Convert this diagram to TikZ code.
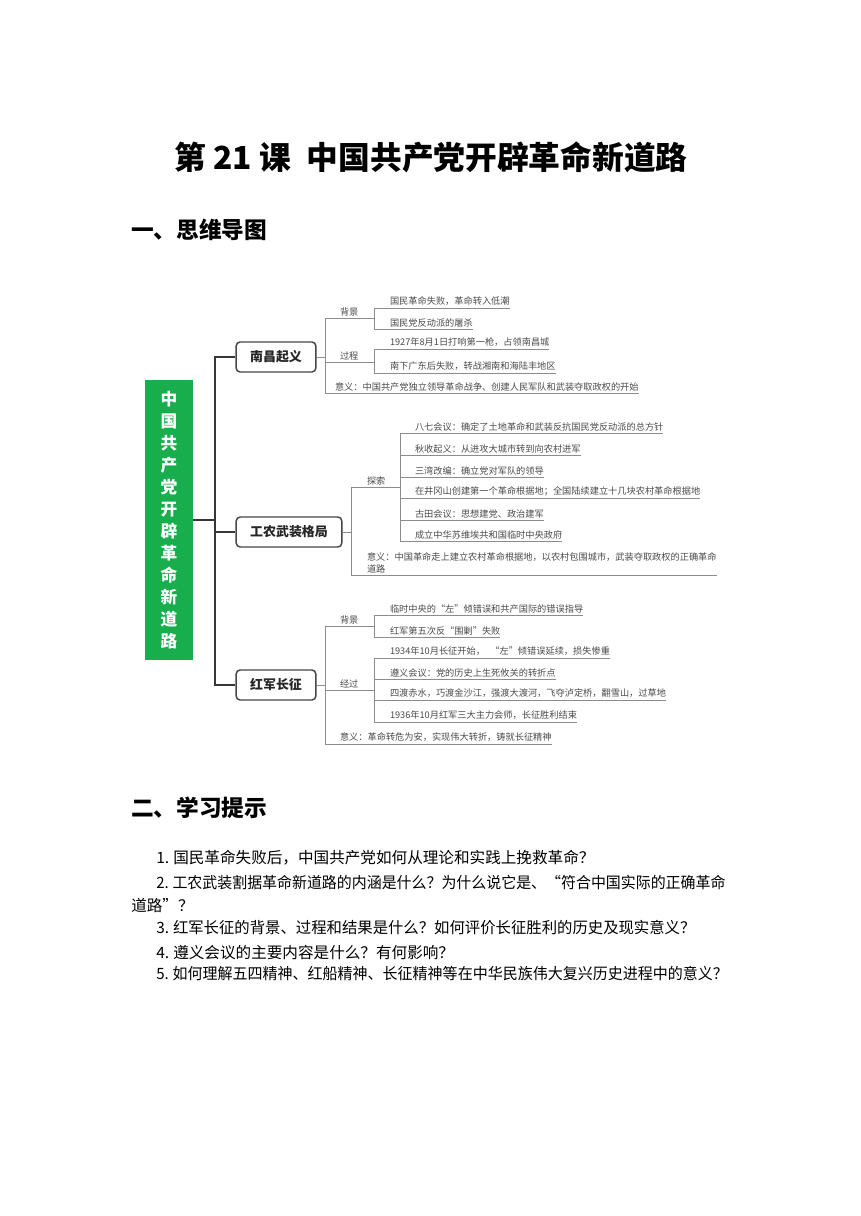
\documentclass[tikz,border=0pt]{standalone}
\usepackage{fontspec}
\newfontfamily\cjk{Noto Sans CJK SC}
\usetikzlibrary{calc}
\definecolor{rootgreen}{RGB}{24,174,78}
\definecolor{leaftext}{RGB}{75,75,75}
\definecolor{linegray}{RGB}{140,140,140}
\definecolor{boxline}{RGB}{70,70,70}
\definecolor{trunkc}{RGB}{55,55,55}
\tikzset{
  leaf/.style={anchor=south west, inner xsep=0pt, inner ysep=1.6pt, outer sep=0pt,
    font=\cjk\fontsize{6.9}{9}\selectfont, text=leaftext},
  ln/.style={draw=linegray, line width=0.7pt},
  trunk/.style={draw=trunkc, line width=1.5pt},
  mbox/.style={draw=boxline, line width=1.1pt, rounded corners=3pt, fill=white,
    font=\cjk\bfseries\fontsize{9.7}{11}\selectfont, text=black!85,
    minimum height=22.5pt, inner xsep=10.5pt, inner ysep=0pt},
  rootbox/.style={fill=rootgreen, minimum width=36pt, minimum height=210pt,
    inner sep=0pt, text=white, align=center,
    font=\cjk\bfseries\fontsize{12.5}{16.5}\selectfont},
  heading/.style={anchor=west, inner sep=0pt, font=\cjk\bfseries\fontsize{17}{20}\selectfont},
  question/.style={anchor=west, inner sep=0pt, font=\cjk\fontsize{11.7}{14}\selectfont}
}
\begin{document}
\begin{tikzpicture}[x=0.75pt, y=-0.75pt]
\fill[white] (0,0) rectangle (860,1216);
\useasboundingbox (0,0) rectangle (860,1216);

% title and headings
\node[font=\cjk\bfseries\fontsize{23.8}{28}\selectfont, inner sep=0pt] (title) at (431,157)
  {第 21 课\hspace{0.5em}中国共产党开辟革命新道路};
\node[heading] (h1) at (131,230) {一、思维导图};
\node[heading] (h2) at (131,808) {二、学习提示};

% root
\node[rootbox] (root) at (169,520)
  {中\\国\\共\\产\\党\\开\\辟\\革\\命\\新\\道\\路};
\coordinate (t) at (215,520);

% main boxes
\node[mbox] (nc) at (276,357) {南昌起义};
\node[mbox] (gn) at (289,532) {工农武装格局};
\node[mbox] (cz) at (276,685) {红军长征};

\draw[trunk] (root.east) -- (t);
\draw[trunk] (nc.west) -| (t);
\draw[trunk] (cz.west) -| (t);
\draw[trunk] (gn.west) -- (gn.west -| t);

% ---- 南昌起义
\node[leaf] (nbg) at (325,318) {\hspace{11.25pt}背景};
\node[leaf] (n1) at (374,308) {\hspace{12pt}国民革命失败，革命转入低潮\hspace{4.5pt}};
\node[leaf] (n2) at (374,329) {\hspace{12pt}国民党反动派的屠杀\hspace{4.5pt}};
\node[leaf] (ngc) at (325,362) {\hspace{11.25pt}过程};
\node[leaf] (n3) at (374,349) {\hspace{12pt}1927年8月1日打响第一枪，占领南昌城\hspace{4.5pt}};
\node[leaf] (n4) at (374,373) {\hspace{12pt}南下广东后失败，转战湘南和海陆丰地区\hspace{4.5pt}};
\node[leaf] (ny) at (325,393) {\hspace{7.5pt}意义：中国共产党独立领导革命战争、创建人民军队和武装夺取政权的开始\hspace{3pt}};

\draw[ln] (nc.east) -- (nc.east -| nbg.south west);
\draw[ln] (nbg.south west) -- (ny.south west);
\draw[ln] (nbg.south west) -- (nbg.south west -| n1.south west);
\draw[ln] (ngc.south west) -- (ngc.south west -| n3.south west);
\draw[ln] (n1.south west) -- (n2.south west);
\draw[ln] (n3.south west) -- (n4.south west);
\foreach \n in {n1,n2,n3,n4,ny} \draw[ln] (\n.south west) -- (\n.south east);

% ---- 工农武装格局
\node[leaf] (gts) at (351,487) {\hspace{12pt}探索};
\node[leaf] (g1) at (400,433) {\hspace{11.25pt}八七会议：确定了土地革命和武装反抗国民党反动派的总方针\hspace{4.5pt}};
\node[leaf] (g2) at (400,455) {\hspace{11.25pt}秋收起义：从进攻大城市转到向农村进军\hspace{4.5pt}};
\node[leaf] (g3) at (400,477) {\hspace{11.25pt}三湾改编：确立党对军队的领导\hspace{4.5pt}};
\node[leaf] (g4) at (400,498) {\hspace{11.25pt}在井冈山创建第一个革命根据地；全国陆续建立十几块农村革命根据地\hspace{4.5pt}};
\node[leaf] (g5) at (400,520) {\hspace{11.25pt}古田会议：思想建党、政治建军\hspace{4.5pt}};
\node[leaf] (g6) at (400,541) {\hspace{11.25pt}成立中华苏维埃共和国临时中央政府\hspace{4.5pt}};
\node[leaf, align=left] (gy) at (351,575)
  {\hspace{12pt}意义：中国革命走上建立农村革命根据地，以农村包围城市，武装夺取政权的正确革命\hspace{5pt}\\\hspace{12pt}道路};

\draw[ln] (gn.east) -- (gn.east -| gts.south west);
\draw[ln] (gts.south west) -- (gy.south west);
\draw[ln] (gts.south west) -- (gts.south west -| g1.south west);
\draw[ln] (g1.south west) -- (g6.south west);
\foreach \n in {g1,g2,g3,g4,g5,g6,gy} \draw[ln] (\n.south west) -- (\n.south east);

% ---- 红军长征
\node[leaf] (cbg) at (325,626) {\hspace{11.25pt}背景};
\node[leaf] (c1) at (374,615) {\hspace{12pt}临时中央的“左”倾错误和共产国际的错误指导\hspace{4.5pt}};
\node[leaf] (c2) at (374,637) {\hspace{12pt}红军第五次反“围剿”失败\hspace{4.5pt}};
\node[leaf] (cjg) at (325,690) {\hspace{11.25pt}经过};
\node[leaf] (c3) at (374,658) {\hspace{12pt}1934年10月长征开始，\hspace{4pt}“左”倾错误延续，损失惨重\hspace{4.5pt}};
\node[leaf] (c4) at (374,679) {\hspace{12pt}遵义会议：党的历史上生死攸关的转折点\hspace{4.5pt}};
\node[leaf] (c5) at (374,700) {\hspace{12pt}四渡赤水，巧渡金沙江，强渡大渡河，飞夺泸定桥，翻雪山，过草地\hspace{4.5pt}};
\node[leaf] (c6) at (374,722) {\hspace{12pt}1936年10月红军三大主力会师，长征胜利结束\hspace{4.5pt}};
\node[leaf] (cy) at (325,744) {\hspace{11.25pt}意义：革命转危为安，实现伟大转折，铸就长征精神\hspace{4.5pt}};

\draw[ln] (cz.east) -- (cz.east -| cbg.south west);
\draw[ln] (cbg.south west) -- (cy.south west);
\draw[ln] (cbg.south west) -- (cbg.south west -| c1.south west);
\draw[ln] (cjg.south west) -- (cjg.south west -| c3.south west);
\draw[ln] (c1.south west) -- (c2.south west);
\draw[ln] (c3.south west) -- (c6.south west);
\foreach \n in {c1,c2,c3,c4,c5,c6,cy} \draw[ln] (\n.south west) -- (\n.south east);

% questions
\node[question] (q1) at (156,858) {1.\hspace{3pt}国民革命失败后，中国共产党如何从理论和实践上挽救革命？};
\node[question] (q2) at (156,883) {\scalebox{0.958}[1]{2.\hspace{3pt}工农武装割据革命新道路的内涵是什么？为什么说它是、“符合中国实际的正确革命}};
\node[question] (q2b) at (131,906) {道路”？};
\node[question] (q3) at (156,928) {\scalebox{0.985}[1]{3.\hspace{3pt}红军长征的背景、过程和结果是什么？如何评价长征胜利的历史及现实意义？}};
\node[question] (q4) at (156,953) {4.\hspace{3pt}遵义会议的主要内容是什么？有何影响？};
\node[question] (q5) at (156,974) {\scalebox{0.962}[1]{5.\hspace{3pt}如何理解五四精神、红船精神、长征精神等在中华民族伟大复兴历史进程中的意义？}};
\end{tikzpicture}
\end{document}
